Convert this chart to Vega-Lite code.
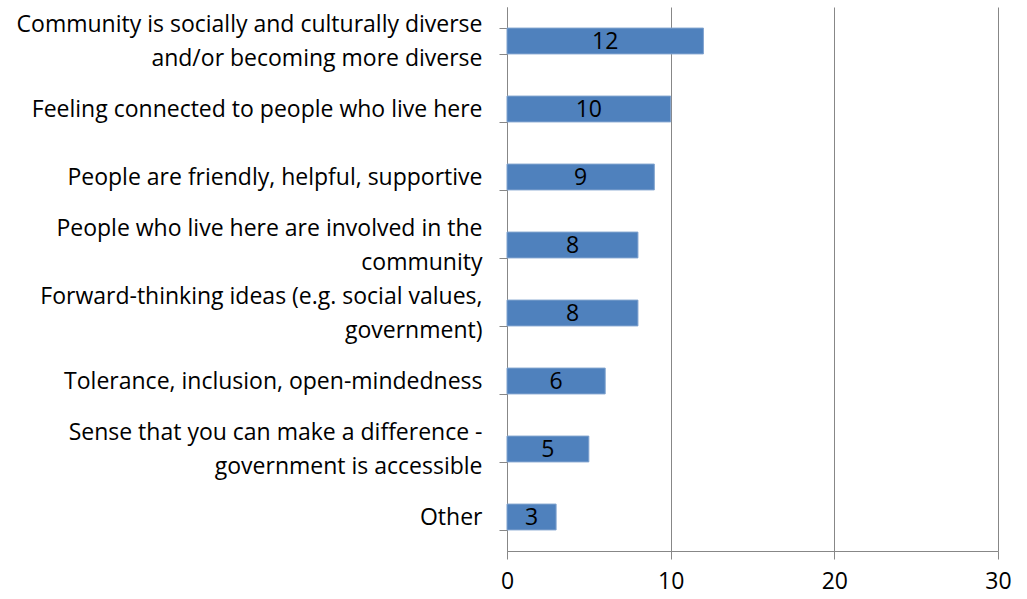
{
  "$schema": "https://vega.github.io/schema/vega-lite/v6.json",
  "width": 491,
  "height": 544,
  "autosize": "none",
  "padding": {"left": 507, "top": 7, "right": 29, "bottom": 48},
  "background": "white",
  "config": {"view": {"stroke": null}, "font": "Open Sans"},
  "data": {"values": [
    {"label": "Community is socially and culturally diverse|and/or becoming more diverse", "value": 12},
    {"label": "Feeling connected to people who live here", "value": 10},
    {"label": "People are friendly, helpful, supportive", "value": 9},
    {"label": "People who live here are involved in the|community", "value": 8},
    {"label": "Forward-thinking ideas (e.g. social values,|government)", "value": 8},
    {"label": "Tolerance, inclusion, open-mindedness", "value": 6},
    {"label": "Sense that you can make a difference -|government is accessible", "value": 5},
    {"label": "Other", "value": 3}
  ]},
  "transform": [{"calculate": "datum.value / 2", "as": "mid"}],
  "encoding": {
    "y": {
      "field": "label", "type": "nominal", "sort": null,
      "scale": {"paddingInner": 0.62, "paddingOuter": 0.31},
      "axis": {
        "title": null,
        "labelExpr": "indexof(datum.label, '|') >= 0 ? [split(datum.label, '|')[0], '\u200b', split(datum.label, '|')[1]] : ['\u200b', datum.label]",
        "labelFont": "Open Sans", "labelFontSize": 23, "labelColor": "black",
        "labelLineHeight": 17, "labelOffset": -17, "labelPadding": 17, "labelLimit": 520,
        "tickBand": "extent", "tickSize": 8, "tickColor": "#878787",
        "domainColor": "#878787", "grid": false
      }
    }
  },
  "layer": [
    {
      "mark": {"type": "bar", "color": "#4F81BD", "stroke": "#7FA2CE", "strokeWidth": 1},
      "encoding": {
        "x": {
          "field": "value", "type": "quantitative",
          "scale": {"domain": [0, 30], "nice": false},
          "axis": {
            "title": null, "values": [0, 10, 20, 30], "labelFlush": false,
            "labelFont": "Open Sans", "labelFontSize": 23, "labelColor": "black",
            "labelPadding": 11, "tickSize": 8, "tickColor": "#878787",
            "domainColor": "#878787", "grid": true, "gridColor": "#878787",
            "gridWidth": 1
          }
        }
      }
    },
    {
      "mark": {"type": "text", "font": "Open Sans", "fontSize": 23, "color": "black", "baseline": "middle", "dy": 1},
      "encoding": {
        "x": {"field": "mid", "type": "quantitative"},
        "text": {"field": "value", "type": "quantitative"}
      }
    }
  ]
}
